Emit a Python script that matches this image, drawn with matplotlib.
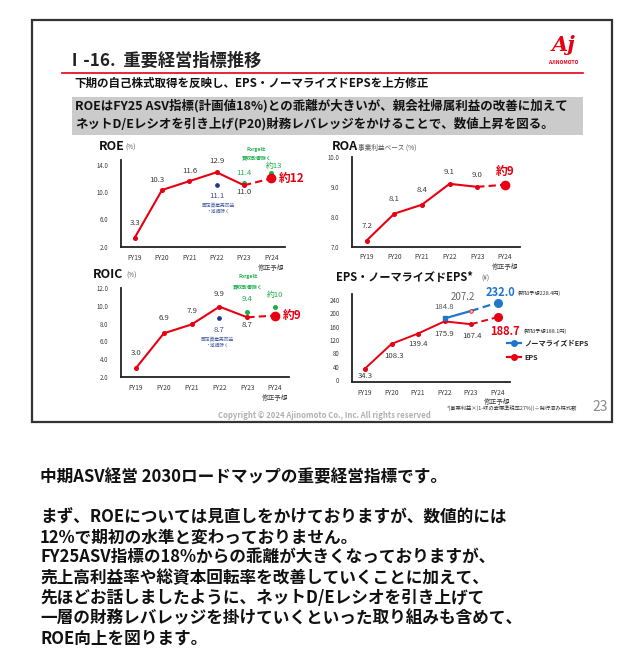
import numpy as np
import matplotlib
matplotlib.use("Agg")
import matplotlib.pyplot as plt
from matplotlib.patches import Rectangle
from matplotlib.lines import Line2D

plt.rcParams['font.family'] = ['Noto Sans CJK JP', 'DejaVu Sans']

# ------------------ data ------------------
years = ['FY19', 'FY20', 'FY21', 'FY22', 'FY23', 'FY24']
year_ticks = ['FY19', 'FY20', 'FY21', 'FY22', 'FY23', 'FY24\n修正予想']

roe = [3.3, 10.3, 11.6, 12.9, 11.0, 12.0]
roe_labels = ['3.3', '10.3', '11.6', '12.9', '11.0', '約12']
roe_excl_fixed = [11.1]          # FY22, excl. gain on sale / impairment
roe_excl_forge = [11.4, 12.8]    # FY23, FY24 excl. Forge acquisition
roe_excl_forge_labels = ['11.4', '約13']

roa = [7.2, 8.1, 8.4, 9.1, 9.0, 9.07]
roa_labels = ['7.2', '8.1', '8.4', '9.1', '9.0', '約9']

roic = [3.0, 6.9, 7.9, 9.9, 8.7, 8.9]
roic_labels = ['3.0', '6.9', '7.9', '9.9', '8.7', '約9']
roic_excl_fixed = [8.6]
roic_excl_fixed_labels = ['8.7']
roic_excl_forge = [9.3, 9.9]
roic_excl_forge_labels = ['9.4', '約10']

eps = [34.3, 108.3, 139.4, 175.9, 167.4, 188.7]
eps_labels = ['34.3', '108.3', '139.4', '175.9', '167.4', '188.7']
eps_norm = [184.8, 207.2, 232.0]   # FY22..FY24
eps_norm_labels = ['184.8', '207.2', '232.0']

body_lines = [
    '中期ASV経営 2030ロードマップの重要経営指標です。',
    '',
    'まず、ROEについては見直しをかけておりますが、数値的には',
    '12%で期初の水準と変わっておりません。',
    'FY25ASV指標の18%からの乖離が大きくなっておりますが、',
    '売上高利益率や総資本回転率を改善していくことに加えて、',
    '先ほどお話しましたように、ネットD/Eレシオを引き上げて',
    '一層の財務レバレッジを掛けていくといった取り組みも含めて、',
    'ROE向上を図ります。',
]

RED = '#e60012'
BLUE = '#1f77c9'
GREEN = '#1fae4b'
NAVY = '#1f3a8a'
DARK = '#3a3a3a'
W, H = 640, 667

fig = plt.figure(figsize=(6.4, 6.67), dpi=100)
fig.patch.set_facecolor('white')

# background axes in pixel coords (y down)
bg = fig.add_axes([0, 0, 1, 1])
bg.set_xlim(0, W)
bg.set_ylim(H, 0)
bg.axis('off')

# slide frame
bg.add_patch(Rectangle((32, 20), 580, 402, fill=False, ec='#333333', lw=1.6))
bg.text(66, 61, 'Ⅰ-16.  重要経営指標推移', fontsize=12.4, fontweight='bold', va='center', color='#222222')
bg.plot([62, 583], [73, 73], color=RED, lw=1.2)
bg.text(563, 45, 'Aj', fontsize=15, fontweight='bold', style='italic', color=RED,
        ha='center', va='center', family='DejaVu Serif')
bg.text(563, 63, 'AJINOMOTO', fontsize=3.6, fontweight='bold', color=RED, ha='center', va='center')
bg.text(74, 83, '下期の自己株式取得を反映し、EPS・ノーマライズドEPSを上方修正',
        fontsize=8.3, fontweight='bold', va='center', color='#111111')
bg.add_patch(Rectangle((72, 97), 511, 38, color='#cbcbcb', lw=0))
bg.text(75, 105.5, 'ROEはFY25 ASV指標(計画値18%)との乖離が大きいが、親会社帰属利益の改善に加えて',
        fontsize=9.0, fontweight='bold', va='center', color='#111111')
bg.text(75, 123.5, 'ネットD/Eレシオを引き上げ(P20)財務レバレッジをかけることで、数値上昇を図る。',
        fontsize=9.0, fontweight='bold', va='center', color='#111111')

bg.text(324, 416, 'Copyright © 2024 Ajinomoto Co., Inc. All rights reserved',
        fontsize=5.6, color='#b0b0b0', ha='center', va='center', fontweight='bold')
bg.text(600, 407, '23', fontsize=10, color='#8a8a8a', ha='center', va='center')
bg.text(577, 408, '*(事業利益×(1-味の素標準税率27%))÷発行済み株式数',
        fontsize=3.8, color='#333333', ha='right', va='center')

# body text below slide
for i, line in enumerate(body_lines):
    bg.text(40, 477 + i * 20.2, line, fontsize=12.0, fontweight='bold', va='center', color='#111111')


def px_axes(left, top, right, bottom):
    return fig.add_axes([left / W, 1 - bottom / H, (right - left) / W, (bottom - top) / H])


def style(ax, xlim, ylim, yticks, yfmt):
    ax.set_xlim(*xlim)
    ax.set_ylim(*ylim)
    ax.set_facecolor('none')
    for s in ['top', 'right']:
        ax.spines[s].set_visible(False)
    for s in ['left', 'bottom']:
        ax.spines[s].set_linewidth(1.3)
        ax.spines[s].set_color('#222222')
    ax.set_xticks(range(len(years)))
    ax.set_xticklabels(year_ticks, fontsize=4.8, color=DARK, linespacing=1.3)
    ax.set_yticks(yticks)
    ax.set_yticklabels([yfmt.format(t) for t in yticks], fontsize=4.4, color=DARK)
    ax.tick_params(length=0, pad=5)
    ax.tick_params(axis='y', pad=9)


def lab(ax, x, y, s, dx, dy, **kw):
    kw.setdefault('fontsize', 5.6)
    kw.setdefault('color', DARK)
    ax.annotate(s, (x, y), xytext=(dx, dy), textcoords='offset pixels',
                ha=kw.pop('ha', 'center'), va='center', **kw)


def main_line(ax, vals):
    x = np.arange(len(vals))
    ax.plot(x[:5], vals[:5], color=RED, lw=1.5, marker='o', ms=2.6, zorder=3)
    ax.plot(x[4:], vals[4:], color=RED, lw=1.5, ls=(0, (3.5, 2)), zorder=3)
    ax.plot(x[5], vals[5], 'o', color=RED, ms=6, zorder=4)


# ---------------- ROE ----------------
ax = px_axes(121, 160, 285, 247)
style(ax, (-0.5, 5.5), (1.95, 14.7), [2.0, 6.0, 10.0, 14.0], '{:.1f}')
main_line(ax, roe)
ax.plot([3], roe_excl_fixed, 'o', color=NAVY, ms=2.4)
ax.plot([4, 5], roe_excl_forge, 'o', color=GREEN, ms=2.6, ls='none')
roe_off = [(0, 15), (-5, 10), (0, 10), (0, 11), (0, -7)]
for i in range(5):
    lab(ax, i, roe[i], roe_labels[i], *roe_off[i])
lab(ax, 5, roe[5], roe_labels[5], 8, 0, ha='left', fontsize=8.5, fontweight='bold', color=RED)
lab(ax, 3, roe_excl_fixed[0], '11.1', 0, -11, color='#3b4f86')
lab(ax, 4, roe_excl_forge[0], roe_excl_forge_labels[0], 0, 10, color=GREEN)
lab(ax, 5, roe_excl_forge[1], roe_excl_forge_labels[1], 3, 7, color=GREEN)
bg.text(99, 147, 'ROE', fontsize=9, fontweight='bold', va='center', color='#111111')
bg.text(125, 148, '(%)', fontsize=4.6, va='center', color='#555555')
bg.text(256, 149, 'Forge社', fontsize=3.6, fontweight='bold', va='center', ha='center', color=GREEN)
bg.text(257, 157.5, '買収影響除く', fontsize=3.6, fontweight='bold', va='center', ha='center', color=GREEN)
bg.text(218, 206, '固定資産売却益', fontsize=3.4, va='center', ha='center', color='#4a5fa0')
bg.text(218, 211.5, '・減損除く', fontsize=3.4, va='center', ha='center', color='#4a5fa0')

# ---------------- ROA ----------------
ax = px_axes(352, 157, 520, 246.5)
style(ax, (-0.53, 5.55), (7.0, 10.0), [7.0, 8.0, 9.0, 10.0], '{:.1f}')
main_line(ax, roa)
roa_off = [(0, 15), (0, 15), (0, 15), (0, 12), (0, 12)]
for i in range(5):
    lab(ax, i, roa[i], roa_labels[i], *roa_off[i])
lab(ax, 5, roa[5], roa_labels[5], 0, 13, fontsize=8.5, fontweight='bold', color=RED)
bg.text(332, 147, 'ROA', fontsize=9, fontweight='bold', va='center', color='#111111')
bg.text(358, 148, '事業利益ベース (%)', fontsize=4.8, va='center', color='#555555')

# ---------------- ROIC ----------------
ax = px_axes(121, 288, 289, 377.3)
style(ax, (-0.54, 5.5), (1.95, 12.0), [2.0, 4.0, 6.0, 8.0, 10.0, 12.0], '{:.1f}')
main_line(ax, roic)
ax.plot([3], roic_excl_fixed, 'o', color=NAVY, ms=2.4)
ax.plot([4, 5], roic_excl_forge, 'o', color=GREEN, ms=2.6, ls='none')
roic_off = [(0, 15), (0, 15), (0, 13), (0, 13), (0, -8)]
for i in range(5):
    lab(ax, i, roic[i], roic_labels[i], *roic_off[i])
lab(ax, 5, roic[5], roic_labels[5], 8, 0, ha='left', fontsize=8.5, fontweight='bold', color=RED)
lab(ax, 3, roic_excl_fixed[0], roic_excl_fixed_labels[0], 0, -12, color='#3b4f86')
lab(ax, 4, roic_excl_forge[0], roic_excl_forge_labels[0], 0, 13, color=GREEN)
lab(ax, 5, roic_excl_forge[1], roic_excl_forge_labels[1], 0, 12, color=GREEN)
bg.text(93, 275, 'ROIC', fontsize=9, fontweight='bold', va='center', color='#111111')
bg.text(126, 276, '(%)', fontsize=4.6, va='center', color='#555555')
bg.text(248, 276, 'Forge社', fontsize=3.6, fontweight='bold', va='center', ha='center', color=GREEN)
bg.text(248, 287, '買収影響除く', fontsize=3.6, fontweight='bold', va='center', ha='center', color=GREEN)
bg.text(217, 340, '固定資産売却益', fontsize=3.4, va='center', ha='center', color='#4a5fa0')
bg.text(217, 345.5, '・減損除く', fontsize=3.4, va='center', ha='center', color='#4a5fa0')

# ---------------- EPS ----------------
ax = px_axes(352, 294, 510, 381.7)
style(ax, (-0.49, 5.47), (-5, 258), [0, 40, 80, 120, 160, 200, 240], '{:.0f}')
x = np.arange(len(eps))
ax.plot(x[:5], eps[:5], color=RED, lw=1.4, marker='o', ms=2.6, zorder=3)
ax.plot(x[4:], eps[4:], color=RED, lw=1.4, ls=(0, (3.5, 2)), zorder=3)
ax.plot(x[5], eps[5], 'o', color=RED, ms=5.5, zorder=4)
xn = np.arange(3, 6)
ax.plot(xn[:2], eps_norm[:2], color=BLUE, lw=1.6, zorder=4)
ax.plot(xn[1:], eps_norm[1:], color=BLUE, lw=1.6, ls=(0, (3.5, 2)), zorder=4)
ax.plot(xn[0], eps_norm[0], 's', color=BLUE, ms=2.4, zorder=5)
ax.plot(xn[1], eps_norm[1], 'o', mfc='#f2b8a0', mec=RED, mew=0.5, ms=2.6, zorder=5)
ax.plot(xn[2], eps_norm[2], 'o', color=BLUE, ms=5.5, zorder=5)
eps_off = [(0, -7), (3, -12), (0, -10), (0, -13), (1, -12)]
for i in range(5):
    lab(ax, i, eps[i], eps_labels[i], *eps_off[i])
lab(ax, 5, eps[5], eps_labels[5], 7, -14, fontsize=8, fontweight='bold', color=RED)
lab(ax, xn[0], eps_norm[0], eps_norm_labels[0], 0, 11, fontsize=5.6, color='#555555')
lab(ax, xn[1], eps_norm[1], eps_norm_labels[1], -8, 14, fontsize=7, color='#666666')
lab(ax, xn[2], eps_norm[2], eps_norm_labels[2], 3, 10, fontsize=8, fontweight='bold', color=BLUE)
bg.text(336, 277, 'EPS・ノーマライズドEPS*', fontsize=8, fontweight='bold', va='center', color='#111111')
bg.text(481, 279, '(¥)', fontsize=4.6, va='center', color='#555555')
bg.text(518, 293, '(期初予想228.4円)', fontsize=3.8, va='center', color='#333333')
bg.text(523, 331, '(期初予想188.1円)', fontsize=3.8, va='center', color='#333333')
bg.add_line(Line2D([507, 521], [343, 343], color=BLUE, lw=1.6))
bg.add_line(Line2D([507, 521], [357, 357], color=RED, lw=1.6))
bg.plot([514], [343], 'o', color=BLUE, ms=4)
bg.plot([514], [357], 'o', color=RED, ms=4)
bg.text(524, 343, 'ノーマライズドEPS', fontsize=5.2, fontweight='bold', va='center', color='#222222')
bg.text(524, 357, 'EPS', fontsize=5.2, fontweight='bold', va='center', color='#222222')

fig.savefig('out.png', dpi=100, facecolor='white')
